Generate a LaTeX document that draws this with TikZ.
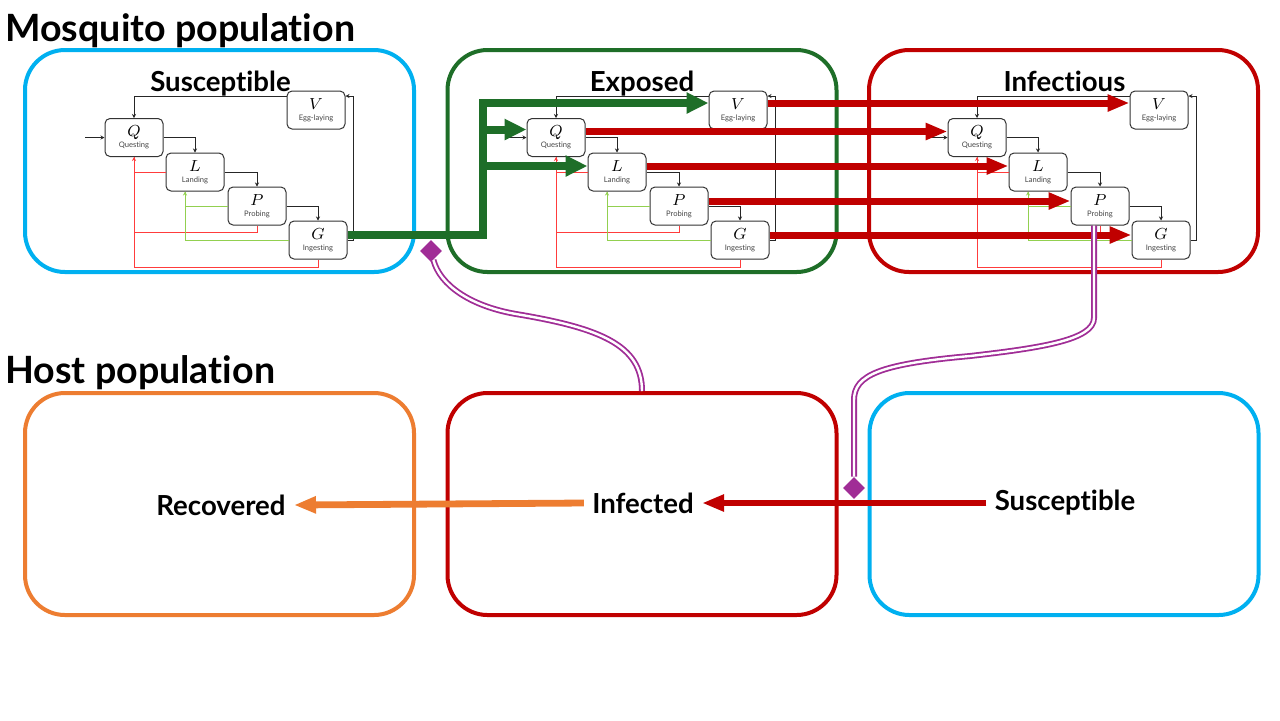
\documentclass[tikz,border=0pt]{standalone}
\usepackage{fontspec}
\setmainfont{Lato}[Ligatures=NoCommon]
\usetikzlibrary{arrows.meta,shapes.geometric,calc}
\definecolor{cyanb}{RGB}{0,176,240}
\definecolor{greenb}{RGB}{30,110,40}
\definecolor{redb}{RGB}{192,0,0}
\definecolor{orangeb}{RGB}{237,125,49}
\definecolor{redthin}{RGB}{255,60,60}
\definecolor{greenthin}{RGB}{146,208,80}
\definecolor{purpleb}{RGB}{160,45,150}
\definecolor{lblgray}{RGB}{70,70,70}
\newcommand\mqlbl{\fontsize{3.8}{4.2}\selectfont\color{lblgray}}
\begin{document}
\begin{tikzpicture}[x=0.5pt,y=-0.5pt,
  popbox/.style={draw, line width=2pt, rounded corners=20pt, minimum width=194.5pt, minimum height=111pt, inner sep=0pt},
  state/.style={draw=black!80, fill=white, line width=0.5pt, rounded corners=2.5pt, minimum width=29pt, minimum height=19pt, inner sep=0pt, align=center, font=\fontsize{8}{7}\selectfont},
  flow/.style={draw=black!85, line width=0.4pt, -{Stealth[length=2pt,width=2pt]}},
  ret/.style={draw=redthin, line width=0.5pt},
  back/.style={draw=greenthin, line width=0.5pt},
  smalltip/.style={-{Stealth[length=2pt,width=2pt]}},
  grflow/.style={draw=greenb, line width=4pt, -{Triangle[length=11pt,width=10pt]}},
  rdflow/.style={draw=redb, line width=3.5pt, -{Triangle[length=11pt,width=8pt]}},
  hostflow/.style={line width=3.4pt, -{Triangle[length=11pt,width=8pt]}},
  title/.style={font=\fontsize{13.8}{16}\selectfont\bfseries, anchor=base, inner sep=0pt},
  hlabel/.style={font=\fontsize{13.8}{16}\selectfont\bfseries, inner sep=4pt},
  heading/.style={font=\fontsize{18.8}{22}\selectfont\bfseries, anchor=base west, inner sep=0pt},
  infl/.style={draw=purpleb, line width=0.9pt, double=white, double distance=1.2pt},
  tipd/.style={diamond, fill=purpleb, inner sep=0pt, minimum width=11pt, minimum height=11pt}
]
\fill[white] (0,0) rectangle (1280,720);
\useasboundingbox (0,0) rectangle (1280,720);

% headings
\node[heading] (hd1) at (5,41) {Mosquito population};
\node[heading] (hd2) at (5,383) {Host population};

% mosquito compartments
\node[popbox, draw=cyanb] (mS) at (219.5,161) {};
\node[popbox, draw=greenb] (mE) at (642,161) {};
\node[popbox, draw=redb] (mI) at (1063.5,161) {};
\node[title] (ttS) at (220.5,91) {Susceptible};
\node[title] (ttE) at (642,91) {Exposed};
\node[title] (ttI) at (1064.5,91) {Infectious};

% inner behaviour diagrams
\foreach \p/\dx in {s/0,e/422,i/843}{
  \node[state] (\p Q) at (134+\dx,137.5) {$Q$\\[-1.5pt]{\mqlbl Questing}};
  \node[state] (\p L) at (195+\dx,172) {$L$\\[-1.5pt]{\mqlbl Landing}};
  \node[state] (\p P) at (257+\dx,206) {$P$\\[-1.5pt]{\mqlbl Probing}};
  \node[state] (\p G) at (318+\dx,240) {$G$\\[-1.5pt]{\mqlbl Ingesting}};
  \node[state] (\p V) at (316+\dx,110) {$V$\\[-1.5pt]{\mqlbl Egg-laying}};
  \coordinate (\p in) at (85+\dx,137.5);
  \draw[flow] (\p in) -- (\p Q);
  \draw[flow] (\p Q.east) -| (\p L.north);
  \draw[flow] (\p L.east) -| (\p P.north);
  \draw[flow] (\p P.east) -| (\p G.north);
  \draw[flow] (\p G.east) -- ++(6,0) |- ($(\p V.east)+(0,-14)$);
  \draw[flow] ($(\p V.west)+(0,-14)$) -| (\p Q.north);
  \draw[ret, smalltip] (\p L.west) -| (\p Q.south);
  \draw[ret] (\p P.south) -- ++(0,7) -| (\p Q.south);
  \draw[ret] (\p G.south) -- ++(0,8) -| (\p Q.south);
  \draw[back, smalltip] (\p P.west) -| ($(\p L.south)+(-10,0)$);
  \draw[back] (\p G.west) -| ($(\p L.south)+(-10,0)$);
}

% susceptible -> exposed (green)
\coordinate (jn) at (483,235);
\coordinate (eVa) at ($(eV.west)+(0,-7)$);
\coordinate (eQa) at ($(eQ.west)+(0,-8)$);
\coordinate (eLa) at ($(eL.west)+(0,-6)$);
\draw[grflow] ($(sG.east)+(0,-5)$) -- (jn) |- (eVa);
\draw[grflow] (jn |- eQa) -- (eQa);
\draw[grflow] (jn |- eLa) -- (eLa);

% exposed -> infectious (red)
\draw[rdflow] ($(eV.east)+(0,-7)$) -- ($(iV.west)+(0,-7)$);
\draw[rdflow] ($(eQ.east)+(0,-6)$) -- ($(iQ.west)+(0,-6)$);
\draw[rdflow] ($(eL.east)+(0,-6)$) -- ($(iL.west)+(0,-6)$);
\draw[rdflow] ($(eP.east)+(0,-5)$) -- ($(iP.west)+(0,-5)$);
\draw[rdflow] ($(eG.east)+(0,-5)$) -- ($(iG.west)+(0,-5)$);

% host compartments
\node[popbox, draw=orangeb] (hR) at (219.5,504) {};
\node[popbox, draw=redb] (hI) at (642,504) {};
\node[popbox, draw=cyanb] (hS) at (1064,504) {};
\node[hlabel] (tR) at (221,505) {Recovered};
\node[hlabel] (tI) at (643,503) {Infected};
\node[hlabel] (tS) at (1065,503) {Susceptible};
\draw[hostflow, draw=orangeb] (tI.west) -- (tR.east);
\draw[hostflow, draw=redb] (tS.west) -- (tI.east);

% infection links (purple)
\node[tipd] (d1) at (431,251) {};
\node[tipd] (d2) at (854,488) {};
\draw[infl] (hI.north) .. controls (642,345) and (600,328) .. (516,314) .. controls (470,306) and (440,285) .. (d1);
\draw[infl] ($(iP.south)+(-6,0)$) -- (1094,318) .. controls (1094,340) and (1040,348) .. (970,356) .. controls (880,364) and (854,375) .. (854,400) -- (d2);
\end{tikzpicture}
\end{document}
